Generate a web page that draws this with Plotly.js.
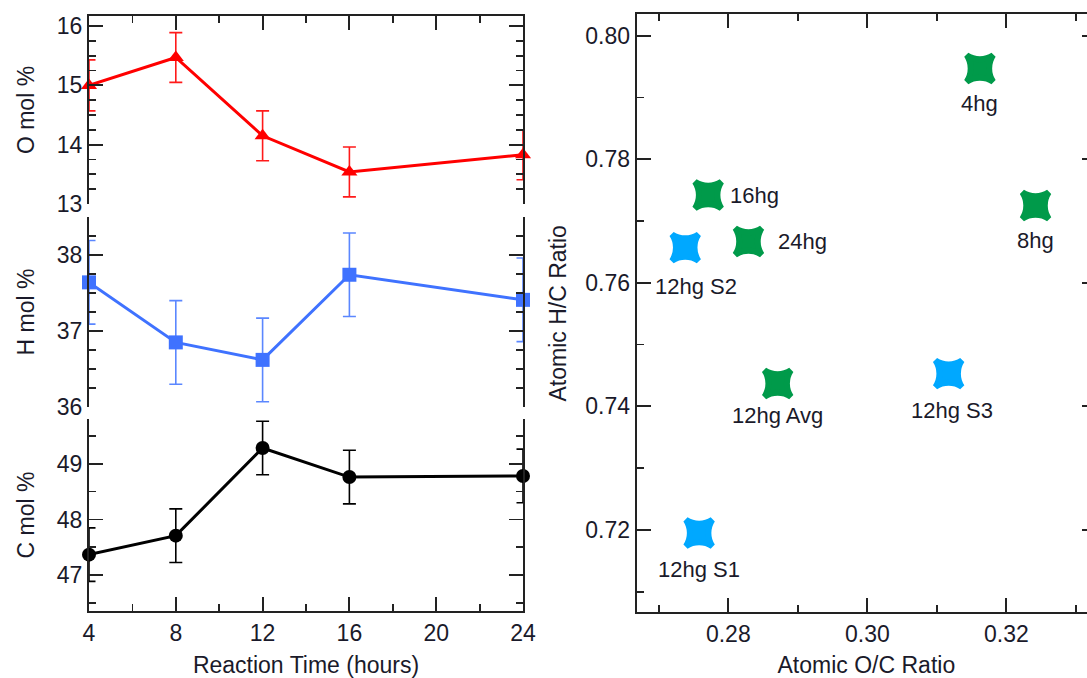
<!DOCTYPE html>
<html>
<head>
<meta charset="utf-8">
<script src="https://cdn.plot.ly/plotly-3.0.1.min.js"></script>
<style>
html,body{margin:0;padding:0;overflow:hidden;background:#fff;}
#chart{width:1100px;height:678px;}
</style>
</head>
<body>
<div id="chart"></div>
<script>
// ---- Data ----
const hours = [4, 8, 12, 16, 24];
const oMol = [15.0, 15.47, 14.15, 13.54, 13.83];
const oErr = [0.43, 0.42, 0.42, 0.42, 0.42];
const hMol = [37.64, 36.85, 36.62, 37.74, 37.41];
const hErr = [0.55, 0.55, 0.55, 0.55, 0.55];
const cMol = [47.37, 47.71, 49.28, 48.76, 48.78];
const cErr = [0.48, 0.48, 0.48, 0.48, 0.48];

const samples = ['4hg', '8hg', '16hg', '24hg', '12hg Avg', '12hg S1', '12hg S2', '12hg S3'];
const ocRatio = [0.3162, 0.3242, 0.2771, 0.2829, 0.2871, 0.2758, 0.2738, 0.3117];
const hcRatio = [0.7947, 0.7725, 0.7742, 0.7667, 0.7437, 0.7195, 0.7657, 0.7453];
const sampleGroup = ['mean', 'mean', 'mean', 'mean', 'mean', 'single', 'single', 'single'];

// ---- Styles ----
const W = 1100, H = 678;
const FONT = 'Liberation Sans, Arial, sans-serif';
const AX = '#222';
const TXT = '#1a1a2a';
const green = '#009a4a';
const cyan = '#00a8ff';
const labelStyle = {
  '4hg': {dx: 0, dy: -35, anchor: 'center'},
  '8hg': {dx: 0, dy: -35, anchor: 'center'},
  '16hg': {dx: 20, dy: 0, anchor: 'left'},
  '24hg': {dx: 28, dy: 0, anchor: 'left'},
  '12hg Avg': {dx: 0, dy: -32, anchor: 'center'},
  '12hg S1': {dx: 0, dy: -36, anchor: 'center'},
  '12hg S2': {dx: 11, dy: -39, anchor: 'center'},
  '12hg S3': {dx: 3, dy: -37, anchor: 'center'}
};

function px2x(p){return p / W;}
function px2y(p){return 1 - p / H;}

function errStyle(arr, color){
  return {type: 'data', array: arr, visible: true, color: color, thickness: 1.6, width: 6.5};
}

const traces = [
  {x: hours, y: oMol, xaxis: 'x2', yaxis: 'y', mode: 'lines+markers', type: 'scatter', cliponaxis: false,
   line: {color: '#ff0000', width: 3}, marker: {symbol: 'triangle-up', size: 14, color: '#ff0000'},
   error_y: errStyle(oErr, '#ff1a1a'), hoverinfo: 'x+y'},
  {x: hours, y: hMol, xaxis: 'x3', yaxis: 'y2', mode: 'lines+markers', type: 'scatter', cliponaxis: false,
   line: {color: '#3f72ff', width: 3}, marker: {symbol: 'square', size: 14, color: '#3f72ff'},
   error_y: errStyle(hErr, '#5b87ff'), hoverinfo: 'x+y'},
  {x: hours, y: cMol, xaxis: 'x', yaxis: 'y3', mode: 'lines+markers', type: 'scatter', cliponaxis: false,
   line: {color: '#000', width: 3}, marker: {symbol: 'circle', size: 14, color: '#000'},
   error_y: errStyle(cErr, '#000'), hoverinfo: 'x+y'}
];

['mean', 'single'].forEach(function(g){
  const idx = samples.map(function(_, i){return i;}).filter(function(i){return sampleGroup[i] === g;});
  const col = g === 'mean' ? green : cyan;
  traces.push({
    x: idx.map(function(i){return ocRatio[i];}),
    y: idx.map(function(i){return hcRatio[i];}),
    text: idx.map(function(i){return samples[i];}),
    xaxis: 'x4', yaxis: 'y4', mode: 'markers', type: 'scatter',
    marker: {symbol: 'star-square', size: 24, color: col, line: {width: 6, color: col}},
    hoverinfo: 'text'
  });
});

const annotations = samples.map(function(s, i){
  const st = labelStyle[s];
  return {x: ocRatio[i], y: hcRatio[i], xref: 'x4', yref: 'y4', text: s, showarrow: false,
    xanchor: st.anchor, yanchor: 'middle', xshift: st.dx, yshift: st.dy,
    font: {family: FONT, size: 22, color: TXT}};
});

function yAxisCommon(extra){
  return Object.assign({
    showline: true, linecolor: AX, linewidth: 2, mirror: 'ticks',
    ticks: 'inside', ticklen: 14, tickwidth: 1.8, tickcolor: AX,
    showgrid: false, zeroline: false, fixedrange: true,
    tickfont: {family: FONT, size: 23, color: TXT},
    automargin: false
  }, extra);
}
function ttl(text, standoff){
  return {text: text, font: {family: FONT, size: 23, color: TXT}, standoff: standoff};
}
const minorY = function(d){return {dtick: d, ticks: 'inside', ticklen: 7, tickwidth: 1.8, tickcolor: AX};};

const leftX = [px2x(89), px2x(523)];
const xCommon = {
  range: [4, 24], tick0: 4, dtick: 4, showgrid: false, zeroline: false,
  ticks: 'inside', ticklen: 14, tickwidth: 1.8, tickcolor: AX,
  minor: {dtick: 2, ticks: 'inside', ticklen: 7, tickwidth: 1.8, tickcolor: AX},
  linecolor: AX, linewidth: 2, fixedrange: true, automargin: false,
  tickfont: {family: FONT, size: 23, color: TXT}
};

const layout = {
  width: W, height: H,
  margin: {l: 0, r: 0, t: 0, b: 0},
  paper_bgcolor: '#fff', plot_bgcolor: 'rgba(0,0,0,0)',
  showlegend: false,
  font: {family: FONT, color: TXT},
  xaxis: Object.assign({}, xCommon, {domain: leftX, anchor: 'y3', showline: true,
    title: ttl('Reaction Time (hours)', 14)}),
  xaxis2: Object.assign({}, xCommon, {domain: leftX, anchor: 'y', side: 'top', matches: 'x',
    showline: true, showticklabels: false}),
  xaxis3: Object.assign({}, xCommon, {domain: leftX, anchor: 'y2', matches: 'x',
    showline: false, showticklabels: false, ticks: '', minor: {ticks: ''}}),
  yaxis: yAxisCommon({domain: [px2y(204), px2y(16)], anchor: 'x2', range: [13, 16.17], dtick: 1, tick0: 0,
    minor: minorY(0.25), title: ttl('O mol %', 16)}),
  yaxis2: yAxisCommon({domain: [px2y(407), px2y(217)], anchor: 'x3', range: [36, 38.5], dtick: 1, tick0: 0,
    minor: minorY(0.25), title: ttl('H mol %', 16)}),
  yaxis3: yAxisCommon({domain: [px2y(611), px2y(419)], anchor: 'x', range: [46.36, 49.8], dtick: 1, tick0: 0,
    minor: minorY(0.5), title: ttl('C mol %', 16)}),
  xaxis4: {domain: [px2x(636.7), px2x(1096)], anchor: 'y4', range: [0.26682, 0.3329],
    tick0: 0, dtick: 0.02, tickformat: '.2f', showline: true, mirror: 'ticks', linecolor: AX, linewidth: 2,
    ticks: 'inside', ticklen: 14, tickwidth: 1.8, tickcolor: AX,
    minor: {dtick: 0.01, ticks: 'inside', ticklen: 7, tickwidth: 1.8, tickcolor: AX},
    showgrid: false, zeroline: false, fixedrange: true, automargin: false,
    tickfont: {family: FONT, size: 23, color: TXT},
    title: ttl('Atomic O/C Ratio', 14)},
  yaxis4: yAxisCommon({domain: [px2y(612.3), px2y(14.3)], anchor: 'x4', range: [0.70667, 0.80346],
    tick0: 0, dtick: 0.02, tickformat: '.2f', minor: minorY(0.01),
    title: ttl('Atomic H/C Ratio', 12)}),
  annotations: annotations
};

Plotly.newPlot('chart', traces, layout, {staticPlot: true, displayModeBar: false});
</script>
</body>
</html>
